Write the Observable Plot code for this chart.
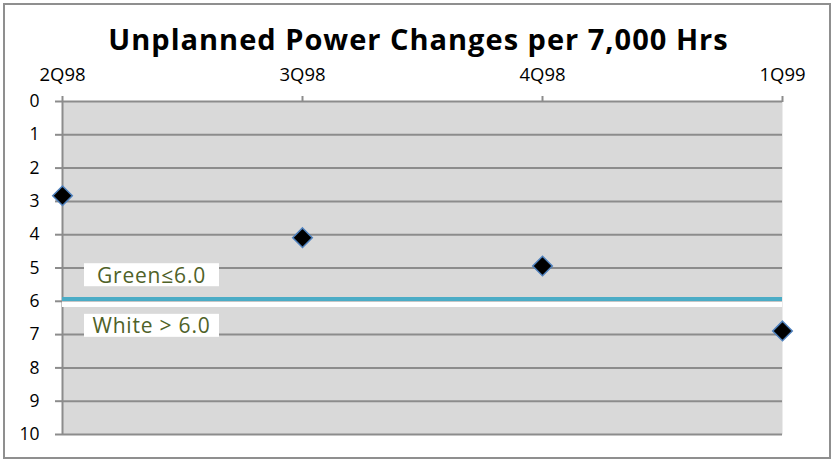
<!DOCTYPE html>
<html><head><meta charset="utf-8">
<script src="https://cdn.jsdelivr.net/npm/d3@7"></script>
<script src="https://cdn.jsdelivr.net/npm/@observablehq/plot@0.6"></script>
<style>
body{margin:0;background:#fff;}
#wrap{position:relative;width:834px;height:461px;overflow:hidden;}
#border{position:absolute;left:3px;top:3px;width:828px;height:456px;border:2px solid #8f8f8f;box-sizing:border-box;pointer-events:none;}
svg{position:absolute;left:0;top:0;}
</style></head>
<body><div id="wrap"><div id="border"></div></div>
<script>
const title = "Unplanned Power Changes per 7,000 Hrs";
const quarters = ["2Q98", "3Q98", "4Q98", "1Q99"];
const changes = [2.83, 4.09, 4.94, 6.89];
const yTicks = [0, 1, 2, 3, 4, 5, 6, 7, 8, 9, 10];
const thresholdLine = [5.93];
const thresholdGap = [6.09];
const zoneLabels = ["Green\u22646.0", "White > 6.0"];
const zoneLabelY = [5.24, 6.76];

const font = "'Open Sans', sans-serif";
const grid = "#8c8c8c";

const chart = Plot.plot({
  width: 834,
  height: 461,
  marginTop: 101,
  marginLeft: 62,
  marginRight: 52,
  marginBottom: 27,
  style: {fontFamily: font, background: "transparent", color: "black"},
  x: {type: "point", domain: quarters, padding: 0},
  y: {domain: [0, 10], reverse: true},
  marks: [
    Plot.frame({fill: "#d9d9d9", stroke: null}),
    Plot.ruleY(yTicks, {stroke: grid, strokeWidth: 2}),
    Plot.ruleX([quarters[0]], {stroke: grid, strokeWidth: 2}),
    Plot.axisY(yTicks, {tickSize: 7, tickPadding: 16, stroke: grid, strokeWidth: 2, fill: "black", fontSize: 17.5}),
    Plot.axisX(quarters, {anchor: "top", tickSize: 6, tickPadding: 15, stroke: grid, strokeWidth: 2, fill: "black", fontSize: 18.5}),
    Plot.ruleY(thresholdGap, {stroke: "white", strokeWidth: 5.5}),
    Plot.ruleY(thresholdLine, {stroke: "#4bacc6", strokeWidth: 4}),
    Plot.text(zoneLabels, {
      y: (d, i) => zoneLabelY[i],
      text: d => d,
      frameAnchor: "left",
      dx: 89,
      textAnchor: "middle",
      fill: "#4f6228",
      fontSize: 21,
      render: (index, scales, values, dims, ctx, next) => {
        const g = next(index, scales, values, dims, ctx);
        g.setAttribute("class", "zone-labels");
        g.style.letterSpacing = "0.8px";
        return g;
      }
    }),
    Plot.dot(quarters, {
      x: d => d,
      y: (d, i) => changes[i],
      symbol: "diamond2",
      r: 8.8,
      fill: "black",
      stroke: "#4f81bd",
      strokeWidth: 1.5
    }),
    Plot.text([title], {
      frameAnchor: "top",
      dy: -72,
      dx: -4,
      text: d => d,
      fontSize: 29,
      fontWeight: "bold",
      fill: "black",
      render: (index, scales, values, dims, ctx, next) => {
        const g = next(index, scales, values, dims, ctx);
        g.style.letterSpacing = "1px";
        return g;
      }
    })
  ]
});

document.getElementById("wrap").appendChild(chart);

// white boxes behind zone labels
const g = chart.querySelector("g.zone-labels");
if (g) {
  g.querySelectorAll("text").forEach(t => {
    const b = t.getBBox();
    const cx = b.x + b.width / 2, cy = b.y + b.height / 2;
    const r = document.createElementNS("http://www.w3.org/2000/svg", "rect");
    r.setAttribute("x", cx - 67.5);
    r.setAttribute("y", cy - 11.5);
    r.setAttribute("width", 135);
    r.setAttribute("height", 23);
    r.setAttribute("fill", "white");
    const tr = t.getAttribute("transform");
    if (tr) r.setAttribute("transform", tr);
    g.insertBefore(r, t);
  });
}
</script>
</body></html>
